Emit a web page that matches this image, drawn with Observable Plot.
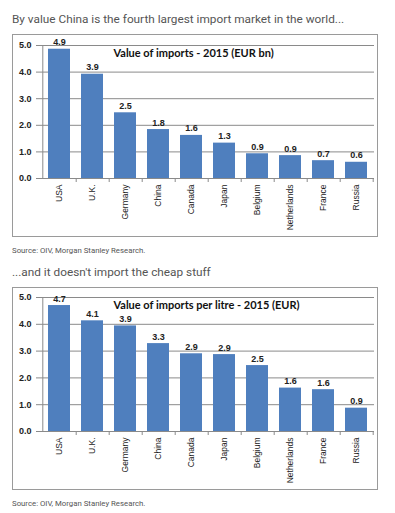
<!DOCTYPE html>
<html>
<head>
<meta charset="utf-8">
<script src="https://cdn.jsdelivr.net/npm/d3@7"></script>
<script src="https://cdn.jsdelivr.net/npm/@observablehq/plot@0.6"></script>
<style>
  html, body { margin: 0; padding: 0; background: #fff; width: 395px; height: 513px; overflow: hidden; }
  .heading { position: absolute; left: 12px; font: 11.8px Roboto, "Liberation Sans", sans-serif; color: #555; white-space: nowrap; }
  .source { position: absolute; left: 12px; font: 7.8px Roboto, "Liberation Sans", sans-serif; color: #555; white-space: nowrap; }
  .box { position: absolute; left: 12px; width: 364px; height: 201px; border: 1px solid #9a9a9a; }
  .box svg { display: block; }
</style>
</head>
<body>
<div class="heading" style="top:12px">By value China is the fourth largest import market in the world...</div>
<div class="box" id="c1" style="top:34px"></div>
<div class="source" style="top:246px">Source: OIV, Morgan Stanley Research.</div>
<div class="heading" style="top:265px">...and it doesn't import the cheap stuff</div>
<div class="box" id="c2" style="top:287px"></div>
<div class="source" style="top:499px">Source: OIV, Morgan Stanley Research.</div>
<script>
const countries = ["USA","U.K.","Germany","China","Canada","Japan","Belgium","Netherlands","France","Russia"];
const valueBn = [4.86, 3.92, 2.47, 1.84, 1.62, 1.33, 0.93, 0.86, 0.67, 0.61];
const valuePerLitre = [4.70, 4.13, 3.94, 3.28, 2.90, 2.87, 2.46, 1.62, 1.56, 0.87];
const yTicks = [0, 1, 2, 3, 4, 5];
const title1 = "Value of imports - 2015 (EUR bn)";
const title2 = "Value of imports per litre - 2015 (EUR)";

const W = 364, H = 201, ML = 27, MR = 3, MB = 58;

function chart(values, title, marginTop) {
  const data = countries.map((c, i) => ({country: c, value: values[i]}));
  const step = (W - ML - MR) / countries.length;
  return Plot.plot({
    width: W, height: H,
    marginLeft: ML, marginRight: MR, marginTop, marginBottom: MB,
    style: {fontFamily: "'Liberation Sans', Arial, sans-serif", fontSize: "8.5px", color: "#222", background: "#fff"},
    x: {domain: countries, paddingInner: 0.34, paddingOuter: 0.17, label: null},
    y: {domain: [0, 5], label: null},
    marks: [
      Plot.gridY(yTicks, {stroke: "#8a8a8a", strokeOpacity: 1}),
      Plot.barY(data, {x: "country", y: "value", fill: "#4f7fbe"}),
      Plot.ruleY([0], {stroke: "#8a8a8a"}),
      Plot.ruleX([countries[0]], {dx: -step / 2, stroke: "#8a8a8a"}),
      Plot.axisY(yTicks, {tickFormat: d => d.toFixed(1), tickSize: 4, tickPadding: 5, stroke: "#8a8a8a", fill: "#222", fontWeight: "bold", fontSize: 9}),
      Plot.axisX({tickSize: 4, text: null, dx: step / 2, stroke: "#8a8a8a"}),
      Plot.axisX({tickSize: 0, tickPadding: 6, tickRotate: -90, fill: "#222", fontSize: 8.5}),
      Plot.text(data, {x: "country", y: "value", text: d => d.value.toFixed(1), lineAnchor: "bottom", dy: -4, fill: "#222", fontSize: 9, fontWeight: "bold"}),
      Plot.text([title], {frameAnchor: "top-left", textAnchor: "start", lineAnchor: "middle", dx: 73, dy: 8, fontFamily: "Lato, 'Liberation Sans', sans-serif", fontWeight: "bold", fontSize: 11, fill: "#111"})
    ]
  });
}

document.getElementById("c1").append(chart(valueBn, title1, 10));
document.getElementById("c2").append(chart(valuePerLitre, title2, 9));
</script>
</body>
</html>
